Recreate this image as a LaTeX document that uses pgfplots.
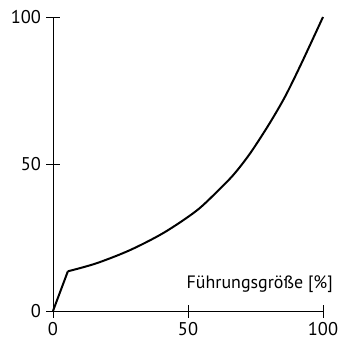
\documentclass[border=0pt]{standalone}
\usepackage{fontspec}
\setmainfont{PT Sans}
\usepackage{pgfplots}
\pgfplotsset{compat=1.18}
\begin{document}
\begin{tikzpicture}
\begin{axis}[
  name=a,
  scale only axis,
  width=270bp, height=294bp,
  xmin=0, xmax=100, ymin=0, ymax=100,
  axis x line*=bottom, axis y line*=left,
  axis line style={line width=0.9pt},
  xtick={0,50,100}, ytick={0,50,100},
  tick align=center,
  major tick length=13bp,
  tick style={line width=0.9pt, black},
  /pgf/number format/assume math mode=true,
  tick label style={font=\fontsize{18.5}{20}\selectfont},
  xticklabel style={yshift=-1bp},
  yticklabel style={xshift=-2bp},
  clip=false,
]
\addplot[line width=2pt, black] coordinates {
(0,0)(5.5,13.5)};
\addplot[line width=2pt, black, smooth] coordinates {
(5.5,13.5)(16,16.2)(28.5,20.7)(41,26.6)(53,34)(61,40.8)(67,46.5)(73,53.6)(80,63.5)(86,73)(92,84.2)(100,100)};
\node[anchor=base east, font=\fontsize{18}{20}\selectfont, inner sep=0pt] at ([xshift=10bp]axis cs:100,7.8) {Führungsgröße [\%]};
\end{axis}
\path[use as bounding box] ([xshift=-53bp,yshift=-31bp]a.south west) rectangle ([xshift=20bp,yshift=17bp]a.north east);
\end{tikzpicture}
\end{document}
